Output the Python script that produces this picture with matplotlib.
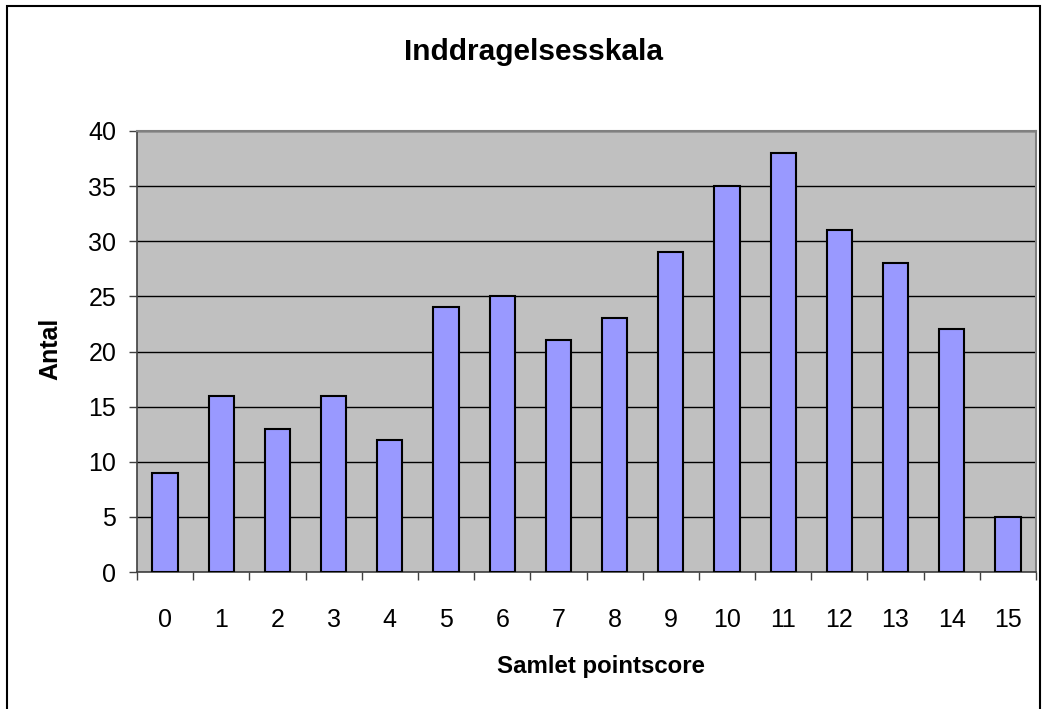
import matplotlib
matplotlib.use("Agg")
import matplotlib.pyplot as plt
from matplotlib.patches import Rectangle

categories = [str(i) for i in range(16)]
values = [9, 16, 13, 16, 12, 24, 25, 21, 23, 29, 35, 38, 31, 28, 22, 5]
title = "Inddragelsesskala"
xlabel = "Samlet pointscore"
ylabel = "Antal"

plt.rcParams['font.family'] = ['Liberation Sans', 'DejaVu Sans']
W, H = 1044, 709
fig = plt.figure(figsize=(W / 100, H / 100), dpi=100)
fig.patch.set_facecolor('white')

# outer chart border
fig.patches.append(Rectangle((7 / W, -0.05), (1040 - 7) / W, 1 - 6 / H + 0.05,
                             transform=fig.transFigure, fill=False,
                             edgecolor='black', linewidth=1.5, zorder=0))

ax = fig.add_axes([137 / W, 1 - 572 / H, (1036 - 137) / W, (572 - 131) / H])
ax.set_facecolor('#C0C0C0')
x = list(range(len(values)))
ax.bar(x, values, width=0.45, color='#9999FF', edgecolor='black', linewidth=1.5, zorder=3)

ax.set_xlim(-0.5, len(values) - 0.5)
ax.set_ylim(0, 40)
ax.set_yticks(range(0, 41, 5))
ax.yaxis.grid(True, color='black', linewidth=1.0, zorder=1)
ax.set_axisbelow(True)

ax.set_xticks([i - 0.5 for i in range(len(values) + 1)])
ax.set_xticklabels([])
ax.set_xticks(x, minor=True)
ax.set_xticklabels(categories, minor=True)
ax.tick_params(axis='x', which='major', direction='out', length=6, width=1, color='#404040')
ax.tick_params(axis='x', which='minor', length=0, pad=26, labelsize=18)
ax.tick_params(axis='y', direction='out', length=6, width=1, color='#404040', pad=9, labelsize=18)

for s in ['top', 'right']:
    ax.spines[s].set_color('#808080')
    ax.spines[s].set_linewidth(1.5)
for s in ['left', 'bottom']:
    ax.spines[s].set_color('#404040')
    ax.spines[s].set_linewidth(1.2)

fig.text(533 / W, 1 - 52 / H, title, ha='center', va='center', fontsize=21.5, fontweight='bold')
fig.text(601 / W, 1 - 667 / H, xlabel, ha='center', va='center', fontsize=17.3, fontweight='bold')
fig.text(50 / W, 1 - 349 / H, ylabel, ha='center', va='center', fontsize=18, fontweight='bold', rotation=90)

fig.savefig('out.png', dpi=100)
